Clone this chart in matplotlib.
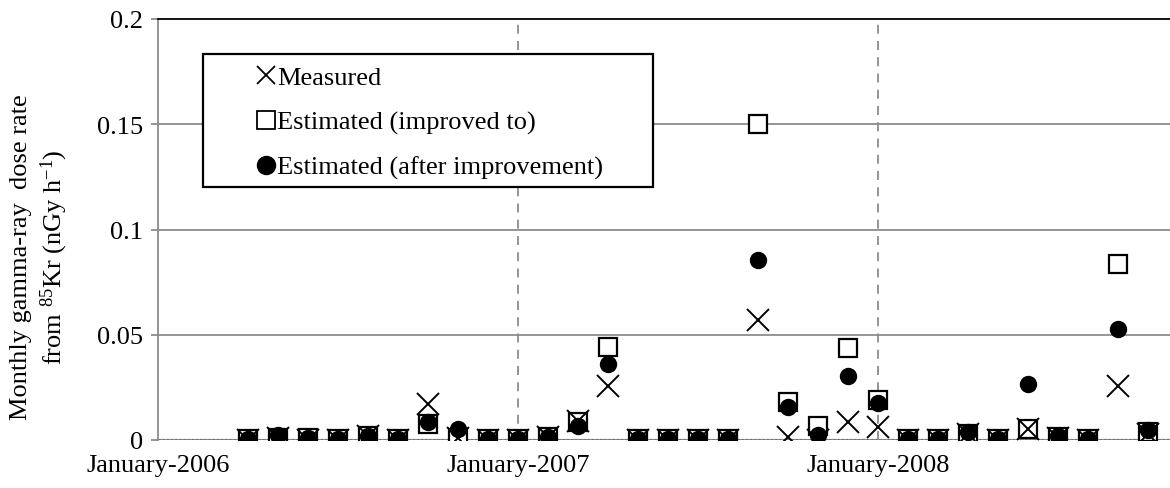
import matplotlib
matplotlib.use("Agg")
import matplotlib.pyplot as plt
from matplotlib.lines import Line2D
from matplotlib.patches import Rectangle
import numpy as np

plt.rcParams['font.family'] = ['Liberation Serif', 'DejaVu Serif']
plt.rcParams['mathtext.fontset'] = 'custom'
plt.rcParams['mathtext.rm'] = 'Liberation Serif'
plt.rcParams['mathtext.it'] = 'Liberation Serif:italic'

months = ["2006-04", "2006-05", "2006-06", "2006-07", "2006-08", "2006-09",
          "2006-10", "2006-11", "2006-12", "2007-01", "2007-02", "2007-03",
          "2007-04", "2007-05", "2007-06", "2007-07", "2007-08", "2007-09",
          "2007-10", "2007-11", "2007-12", "2008-01", "2008-02", "2008-03",
          "2008-04", "2008-05", "2008-06", "2008-07", "2008-08", "2008-09",
          "2008-10"]
measured = [0, 0.001, 0, 0, 0.002, 0, 0.017, 0.001, 0, 0, 0.0015, 0.0088,
            0.0255, 0, 0, 0, 0, 0.057, 0.0015, 0, 0.0086, 0.006, 0, 0,
            0.003, 0, 0.005, 0.001, 0, 0.0257, 0.003]
est_improved_to = [0.0005, 0.001, 0.001, 0.0005, 0.002, 0.0005, 0.0075, 0.001,
                   0.0005, 0.0005, 0.0015, 0.0085, 0.0443, 0.0005, 0.0005,
                   0.0005, 0.0005, 0.150, 0.018, 0.0068, 0.0437, 0.0192,
                   0.0005, 0.0005, 0.003, 0.0005, 0.005, 0.0015, 0.0005,
                   0.0835, 0.004]
est_after = [0.0005, 0.0025, 0.0008, 0.0005, 0.002, 0.0005, 0.0085, 0.005,
             0.0005, 0.0005, 0.0013, 0.0065, 0.036, 0.0005, 0.0005, 0.0005,
             0.0005, 0.0855, 0.0157, 0.0022, 0.0305, 0.0176, 0.0005, 0.0005,
             0.0038, 0.0005, 0.0267, 0.002, 0.0005, 0.0528, 0.0048]
year_ticks = [0, 12, 24]
year_labels = ["January-2006", "January-2007", "January-2008"]

# month index counted from January 2006
x = np.array([(int(m[:4]) - 2006) * 12 + int(m[5:]) - 1 for m in months])

fig = plt.figure(figsize=(11.7, 4.89), dpi=100)
ax = fig.add_axes([158 / 1170, 1 - 441 / 489, 1012 / 1170, 421 / 489])

grid_c = '#8c8c8c'
for yv in [0.05, 0.1, 0.15]:
    ax.axhline(yv, color=grid_c, lw=1.3, zorder=1)
for xv in year_ticks[1:]:
    ax.axvline(xv, color=grid_c, lw=1.3, ls=(0, (5, 4)), zorder=1)
ax.axhline(0, color=grid_c, lw=1.6, zorder=1)
ax.axhline(0, color='black', lw=1.0, ls=(0, (1.5, 1.5)), zorder=1.5)

ax.plot(x, est_improved_to, ls='none', marker='s', ms=13.5, mfc='white',
        mec='black', mew=1.6, zorder=3)
ax.plot(x, est_after, ls='none', marker='o', ms=11.5, mfc='black',
        mec='black', zorder=3.5)
ax.plot(x, measured, ls='none', marker='x', ms=16, mec='black', mew=1.4,
        zorder=4)

ax.set_xlim(0, 1012 / 30)
ax.set_ylim(0, 0.2)
ax.set_yticks([0, 0.05, 0.1, 0.15, 0.2])
ax.set_yticklabels(["0", "0.05", "0.1", "0.15", "0.2"])
ax.set_xticks(year_ticks)
ax.set_xticklabels(year_labels)
ax.tick_params(axis='y', length=5, color=grid_c, width=1.3, labelsize=19, pad=6)
ax.tick_params(axis='x', length=0, labelsize=19, pad=10)

for s in ['right', 'bottom']:
    ax.spines[s].set_visible(False)
ax.spines['left'].set_color(grid_c)
ax.spines['left'].set_linewidth(1.3)
ax.spines['top'].set_color('black')
ax.spines['top'].set_linewidth(1.3)

fig.text(40 / 1170, 1 - 257 / 489,
         "Monthly gamma-ray  dose rate\nfrom $^{85}$Kr (nGy h$^{-1}$)",
         rotation=90, ha='center', va='center', multialignment='center',
         fontsize=19, linespacing=1.3)

# legend box
box = Rectangle(((203 - 158) / 1012, (441 - 188) / 421), 450 / 1012, 133 / 421,
                transform=ax.transAxes, facecolor='white', edgecolor='black',
                lw=1.6, zorder=4.5, clip_on=False)
ax.add_patch(box)
handles = [
    Line2D([], [], ls='none', marker='x', ms=13, mec='black', mew=1.3),
    Line2D([], [], ls='none', marker='s', ms=13, mfc='white', mec='black', mew=1.3),
    Line2D([], [], ls='none', marker='o', ms=13, mfc='black', mec='black'),
]
labels = ["Measured", "Estimated (improved to)", "Estimated (after improvement)"]
leg = ax.legend(handles, labels, loc='upper left',
                bbox_to_anchor=((256 - 158) / 1012, (441 - 67) / 421),
                frameon=False, fontsize=19, handlelength=0.75,
                handletextpad=0.05, labelspacing=0.8, borderpad=0,
                borderaxespad=0)
leg.set_zorder(6)

fig.savefig("out.png", dpi=100)
